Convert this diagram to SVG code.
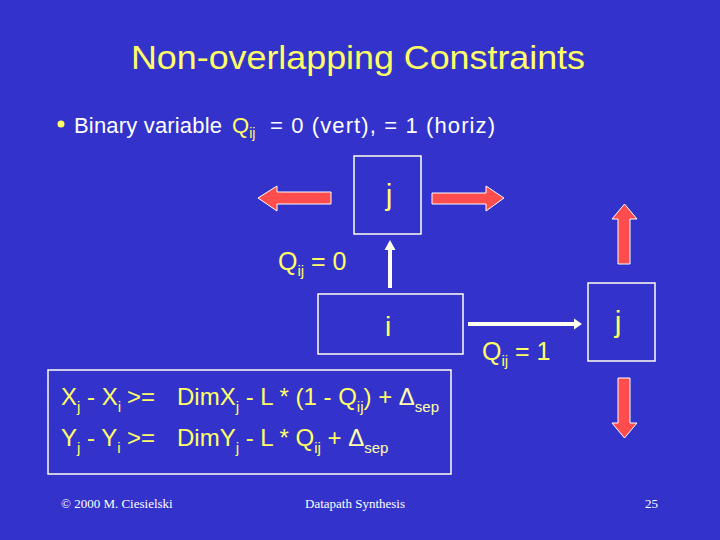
<svg xmlns="http://www.w3.org/2000/svg" width="720" height="540" viewBox="0 0 720 540">
<style>
.bg{fill:#3333cc}
.y{fill:#ffff66}
.w{fill:#ffffff}
.pale{fill:#ffffaa}
.sans{font-family:"Liberation Sans",Arial,sans-serif}
.serif{font-family:"Liberation Serif","Times New Roman",serif}
.box{fill:none;stroke:#ffffee;stroke-width:1.5}
.red{fill:#ff4d4d;stroke:#ffffff;stroke-width:1}
.conn{fill:#ffffee}
</style>
<rect class="bg" x="0" y="0" width="720" height="540"/>
<text class="y sans" x="358" y="69" font-size="34" text-anchor="middle" textLength="454" lengthAdjust="spacingAndGlyphs">Non-overlapping Constraints</text>
<circle class="y" cx="61" cy="124" r="3.5"/>
<text class="sans" font-size="22"><tspan class="w" x="74" y="133" textLength="148" lengthAdjust="spacing">Binary variable</tspan><tspan class="y" x="232" y="133">Q</tspan><tspan class="y" font-size="14" dy="5">ij</tspan><tspan class="w" x="270" y="133" textLength="225" lengthAdjust="spacing">= 0 (vert),  = 1 (horiz)</tspan></text>

<g id="node-j-top">
<rect class="box" x="354" y="156" width="67" height="78"/>
<text class="y sans" x="389" y="205" font-size="30" text-anchor="middle">j</text>
</g>
<g id="node-i">
<rect class="box" x="318" y="294" width="145" height="60"/>
<text class="y sans" x="388" y="336" font-size="28" text-anchor="middle">i</text>
</g>
<g id="node-j-right">
<rect class="box" x="588" y="283" width="67" height="78"/>
<text class="y sans" x="618" y="332" font-size="30" text-anchor="middle">j</text>
</g>

<g id="connectors">
<polygon class="conn" points="388,288 388,250 384.5,250 390,240 395.5,250 392,250 392,288"/>
<polygon class="conn" points="468,322 574,322 574,318.5 582,324 574,329.5 574,326 468,326"/>
</g>

<g id="move-arrows">
<polygon class="red" points="331,192 277,192 277,186 258,198 277,211 277,204 331,204"/>
<polygon class="red" points="432,193 486,193 486,186 504,198 486,211 486,204 432,204"/>
<polygon class="red" points="618,264 618,219 612,219 624.5,204 637,219 630,219 630,264"/>
<polygon class="red" points="618,378 618,423 612,423 624.5,438 637,423 630,423 630,378"/>
</g>

<g id="label-q0">
<text class="y sans" font-size="25"><tspan x="278" y="270">Q</tspan><tspan font-size="15" dy="6">ij</tspan><tspan dy="-6"> = 0</tspan></text>
</g>
<g id="label-q1">
<text class="y sans" font-size="25"><tspan x="482" y="360">Q</tspan><tspan font-size="15" dy="6">ij</tspan><tspan dy="-6"> = 1</tspan></text>
</g>

<g id="node-equations">
<rect class="box" x="48" y="370" width="403" height="104"/>
<text class="y sans" font-size="24"><tspan x="61" y="405">X</tspan><tspan font-size="15" dy="7">j</tspan><tspan dy="-7"> - X</tspan><tspan font-size="15" dy="7">i</tspan><tspan x="127" y="405">&gt;=</tspan><tspan x="177" y="405">DimX</tspan><tspan font-size="15" dy="7">j</tspan><tspan dy="-7"> - L * (1 - Q</tspan><tspan font-size="15" dy="7">ij</tspan><tspan dy="-7">) + </tspan><tspan class="pale">Δ</tspan><tspan class="pale" font-size="15" dy="7">sep</tspan></text>
<text class="y sans" font-size="24"><tspan x="61" y="446">Y</tspan><tspan font-size="15" dy="7">j</tspan><tspan dy="-7"> - Y</tspan><tspan font-size="15" dy="7">i</tspan><tspan x="127" y="446">&gt;=</tspan><tspan x="177" y="446">DimY</tspan><tspan font-size="15" dy="7">j</tspan><tspan dy="-7"> - L * Q</tspan><tspan font-size="15" dy="7">ij</tspan><tspan dy="-7"> + </tspan><tspan class="pale">Δ</tspan><tspan class="pale" font-size="15" dy="7">sep</tspan></text>
</g>

<g id="footer">
<text class="w serif" x="61" y="508" font-size="13">© 2000 M. Ciesielski</text>
<text class="w serif" x="305" y="508" font-size="13">Datapath Synthesis</text>
<text class="w serif" x="645" y="508" font-size="13">25</text>
</g>
</svg>
